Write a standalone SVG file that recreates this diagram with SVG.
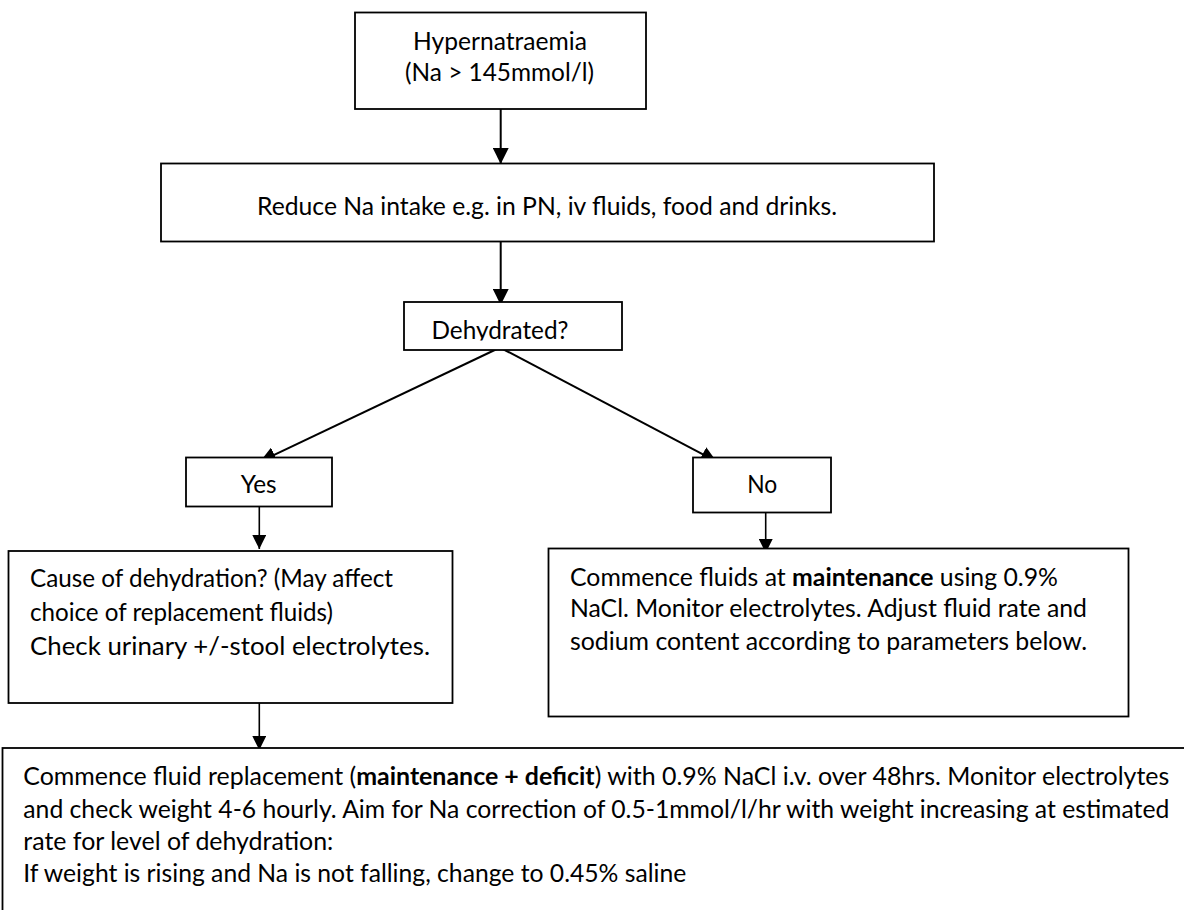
<svg xmlns="http://www.w3.org/2000/svg" width="1184" height="910" viewBox="0 0 1184 910">
<style>
.box{fill:#fff;stroke:#000;stroke-width:1.8}
.t{font-family:Lato,"Open Sans","Liberation Sans",sans-serif;font-size:25px;fill:#000}
.c{text-anchor:middle}
.b{font-weight:bold}
.ln{fill:none;stroke:#000;stroke-width:2}
.thin{stroke-width:1.6}
</style>
<defs>
<marker id="ah" viewBox="0 0 10 10" refX="10" refY="5" markerUnits="userSpaceOnUse" markerWidth="16" markerHeight="16" orient="auto">
<path d="M0,0 L10,5 L0,10 z" fill="#000"/>
</marker>
<marker id="ahs" viewBox="0 0 10 10" refX="10" refY="5" markerUnits="userSpaceOnUse" markerWidth="14" markerHeight="14" orient="auto">
<path d="M0,0 L10,5 L0,10 z" fill="#000"/>
</marker>
<clipPath id="dclip"><rect x="404" y="302" width="218" height="38.5"/></clipPath>
</defs>
<rect width="1184" height="910" fill="#fff"/>
<g id="connectors">
<path class="ln" d="M500.7,109 L500.7,164" marker-end="url(#ah)"/>
<path class="ln" d="M500.7,242 L500.7,305" marker-end="url(#ah)"/>
<path class="ln" d="M500,347.5 L260,461.7" marker-end="url(#ah)"/>
<path class="ln" d="M500,347.5 L716.7,461.7" marker-end="url(#ah)"/>
<path class="ln thin" d="M259.3,506.5 L259.3,549" marker-end="url(#ahs)"/>
<path class="ln thin" d="M765.7,512.7 L765.7,553" marker-end="url(#ahs)"/>
<path class="ln thin" d="M259.3,703 L259.3,750" marker-end="url(#ahs)"/>
</g>
<g id="hyper">
<rect class="box" x="355" y="12.5" width="291" height="96.5"/>
<text class="t c" x="500" y="50" textLength="174" lengthAdjust="spacingAndGlyphs">Hypernatraemia</text>
<text class="t c" x="499.5" y="81" textLength="189" lengthAdjust="spacingAndGlyphs">(Na &gt; 145mmol/l)</text>
</g>
<g id="reduce">
<rect class="box" x="161" y="163.5" width="773" height="78"/>
<text class="t c" x="547" y="215" textLength="580" lengthAdjust="spacingAndGlyphs">Reduce Na intake e.g. in PN, iv fluids, food and drinks.</text>
</g>
<g id="dehydrated">
<rect class="box" x="404" y="302" width="218" height="48"/>
<text class="t c" x="500" y="339" textLength="137" lengthAdjust="spacingAndGlyphs" clip-path="url(#dclip)">Dehydrated?</text>
</g>
<g id="yes">
<rect class="box" x="186" y="457.5" width="146" height="49"/>
<text class="t c" x="258.7" y="493.3" textLength="36" lengthAdjust="spacingAndGlyphs">Yes</text>
</g>
<g id="no">
<rect class="box" x="693" y="457.5" width="138" height="55"/>
<text class="t c" x="762.3" y="493.3" textLength="30" lengthAdjust="spacingAndGlyphs">No</text>
</g>
<g id="cause">
<rect class="box" x="8.5" y="551" width="444" height="152"/>
<text class="t" x="30" y="587" textLength="363" lengthAdjust="spacingAndGlyphs">Cause of dehydration? (May affect</text>
<text class="t" x="30" y="621" textLength="303" lengthAdjust="spacingAndGlyphs">choice of replacement fluids)</text>
<text class="t" x="30" y="654.5" textLength="400" lengthAdjust="spacingAndGlyphs">Check urinary +/-stool electrolytes.</text>
</g>
<g id="maintenance">
<rect class="box" x="548.5" y="548.5" width="580" height="168"/>
<text class="t" x="570" y="585.7" textLength="488" lengthAdjust="spacingAndGlyphs">Commence fluids at <tspan class="b">maintenance</tspan> using 0.9%</text>
<text class="t" x="570" y="617.3" textLength="517" lengthAdjust="spacingAndGlyphs">NaCl. Monitor electrolytes. Adjust fluid rate and</text>
<text class="t" x="570" y="650" textLength="517" lengthAdjust="spacingAndGlyphs">sodium content according to parameters below.</text>
</g>
<g id="replacement">
<rect class="box" x="2.5" y="748" width="1200" height="200"/>
<text class="t" x="23.3" y="785" textLength="1146" lengthAdjust="spacingAndGlyphs">Commence fluid replacement (<tspan class="b">maintenance + deficit</tspan>) with 0.9% NaCl i.v. over 48hrs. Monitor electrolytes</text>
<text class="t" x="23.3" y="817.5" textLength="1146" lengthAdjust="spacingAndGlyphs">and check weight 4-6 hourly. Aim for Na correction of 0.5-1mmol/l/hr with weight increasing at estimated</text>
<text class="t" x="23.3" y="849.5" textLength="310" lengthAdjust="spacingAndGlyphs">rate for level of dehydration:</text>
<text class="t" x="23.3" y="881.7" textLength="663" lengthAdjust="spacingAndGlyphs">If weight is rising and Na is not falling, change to 0.45% saline</text>
</g>
</svg>
